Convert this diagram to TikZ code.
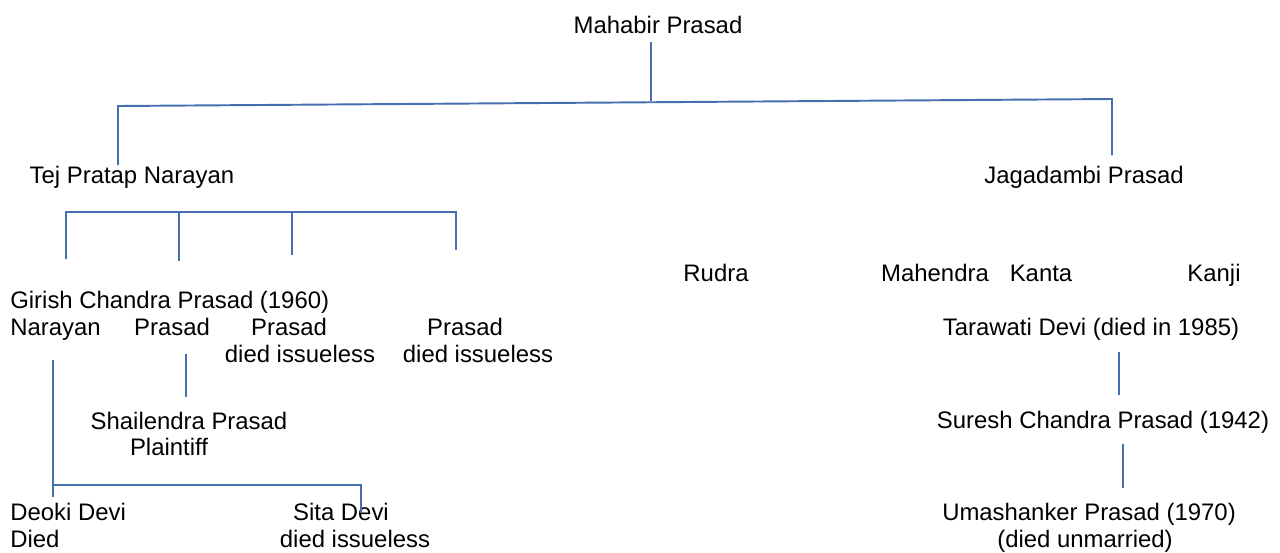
\documentclass[tikz,border=0pt]{standalone}
\usepackage{fontspec}
\setmainfont{Liberation Sans}
\definecolor{lineblue}{RGB}{68,110,174}
\tikzset{
  person/.style={inner sep=0pt, anchor=base, font=\fontsize{13.6}{15}\selectfont},
  rel/.style={draw=lineblue, line width=1.1pt},
}
\begin{document}
\begin{tikzpicture}[x=0.02cm, y=-0.02cm]
  \useasboundingbox (0,0) rectangle (1280,552);

  % generations
  \node[person] (mahabir) at (658, 33) {Mahabir Prasad};
  \node[person] (tej) at (132, 183) {Tej Pratap Narayan};
  \node[person] (jagadambi) at (1084, 183) {Jagadambi Prasad};

  \node[person, anchor=base west] (girish) at (10, 308) {Girish Chandra Prasad (1960)};
  \node[person, anchor=base west] (narayan) at (10, 335) {Narayan};
  \node[person] (prasadA) at (172, 335) {Prasad};
  \node[person] (prasadB) at (289, 335) {Prasad};
  \node[person] (issuelessB) at (300, 362) {died issueless};
  \node[person] (prasadC) at (465, 335) {Prasad};
  \node[person] (issuelessC) at (478, 362) {died issueless};

  \node[person] (shailendra) at (189, 429) {Shailendra Prasad};
  \node[person] (plaintiff) at (169, 455) {Plaintiff};

  \node[person, anchor=base west] (deoki) at (10, 520) {Deoki Devi};
  \node[person, anchor=base west] (deokidied) at (10, 547) {Died};
  \node[person] (sita) at (341, 520) {Sita Devi};
  \node[person] (sitadied) at (355, 547) {died issueless};

  \node[person] (rudra) at (716, 281) {Rudra};
  \node[person] (mahendra) at (935, 281) {Mahendra};
  \node[person] (kanta) at (1041, 281) {Kanta};
  \node[person] (kanji) at (1214, 281) {Kanji};

  \node[person] (tarawati) at (1091, 335) {Tarawati Devi (died in 1985)};
  \node[person] (suresh) at (1103, 428) {Suresh Chandra Prasad (1942)};
  \node[person] (umashanker) at (1089, 520) {Umashanker Prasad (1970)};
  \node[person] (unmarried) at (1085, 547) {(died unmarried)};

  % branch points
  \coordinate (mtop) at (651, 42);
  \coordinate (mbar) at (651, 101);
  \coordinate (barL) at (118, 106);
  \coordinate (barR) at (1112, 99);
  \coordinate (tejend) at (118, 165);
  \coordinate (jagend) at (1112, 155);

  \coordinate (tbar1) at (66, 212);
  \coordinate (tbar2) at (179, 212);
  \coordinate (tbar3) at (292, 212);
  \coordinate (tbar4) at (456, 212);
  \coordinate (tend1) at (66, 259);
  \coordinate (tend2) at (179, 261);
  \coordinate (tend3) at (292, 255);
  \coordinate (tend4) at (456, 250);

  \coordinate (ntop) at (53, 360);
  \coordinate (nbar) at (53, 485);
  \coordinate (nend) at (53, 497);
  \coordinate (sbar) at (361, 485);
  \coordinate (send) at (361, 513);

  \coordinate (ptop) at (186, 354);
  \coordinate (pend) at (186, 397);

  \coordinate (ttop) at (1119, 352);
  \coordinate (tend) at (1119, 395);
  \coordinate (stop) at (1123, 444);
  \coordinate (send2) at (1123, 488);

  % connectors
  \draw [rel] (mtop) -- (mbar);
  \draw [rel] (tejend) -- (barL) -- (barR) -- (jagend);

  \draw [rel] (tend1) -- (tbar1) -- (tbar4) -- (tend4);
  \draw [rel] (tbar2) -- (tend2);
  \draw [rel] (tbar3) -- (tend3);

  \draw [rel] (ntop) -- (nend);
  \draw [rel] (nbar) -- (sbar) -- (send);
  \draw [rel] (ptop) -- (pend);

  \draw [rel] (ttop) -- (tend);
  \draw [rel] (stop) -- (send2);
\end{tikzpicture}
\end{document}
